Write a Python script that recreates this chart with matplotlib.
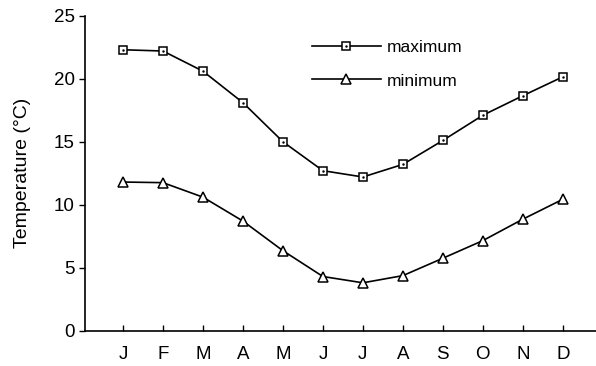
import matplotlib
matplotlib.use("Agg")
import matplotlib.pyplot as plt

plt.rcParams['font.family'] = ['Liberation Sans', 'DejaVu Sans']

months = ["J", "F", "M", "A", "M", "J", "J", "A", "S", "O", "N", "D"]
t_max = [22.3, 22.2, 20.6, 18.1, 15.0, 12.7, 12.2, 13.2, 15.1, 17.1, 18.65, 20.15]
t_min = [11.8, 11.75, 10.6, 8.7, 6.35, 4.3, 3.8, 4.37, 5.75, 7.15, 8.85, 10.43]
y_ticks = [0, 5, 10, 15, 20, 25]

fig = plt.figure(figsize=(5.96, 3.66), dpi=100)
ax = fig.add_axes([0.1426, 0.0965, 0.8574, 0.8605])

x = list(range(len(months)))
l_max, = ax.plot(x, t_max, color="black", lw=1.2, marker="s", ms=6, mfc="white",
                 mec="black", mew=1.1)
# small dot inside each square, as in the original
dots, = ax.plot(x, t_max, ls="none", marker=".", ms=1.5, color="black")
l_min, = ax.plot(x, t_min, color="black", lw=1.2, marker="^", ms=6.5, mfc="white",
                 mec="black", mew=1.1)

ax.set_xlim(-0.95, 11.83)
ax.set_ylim(0, 25)
ax.set_xticks(x)
ax.set_xticklabels(months, fontsize=13.5)
ax.set_yticks(y_ticks)
ax.tick_params(axis="y", labelsize=13.5, direction="out", length=4, width=1)
ax.tick_params(axis="x", direction="in", length=4, width=1, pad=11)
ax.set_ylabel("Temperature (°C)", fontsize=14, labelpad=16)

for s in ["top", "right"]:
    ax.spines[s].set_visible(False)
for s in ["left", "bottom"]:
    ax.spines[s].set_linewidth(1.2)

ax.legend([(l_max, dots), l_min], ["maximum", "minimum"],
          loc="upper left", bbox_to_anchor=(0.43, 0.945), frameon=False,
          fontsize=12.5, handlelength=4.0, numpoints=1, labelspacing=1.05,
          handletextpad=0.35, borderaxespad=0)

fig.savefig("out.png", dpi=100)
